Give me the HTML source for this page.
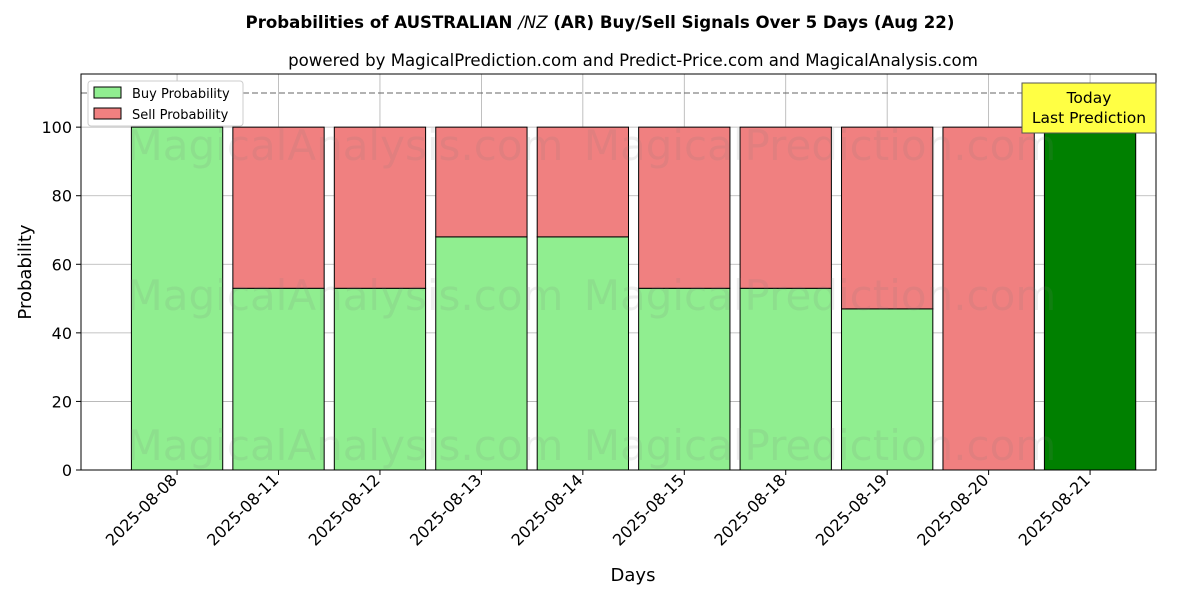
<!DOCTYPE html>
<html><head><meta charset="utf-8"><style>
body{margin:0;background:#fff;font-family:"DejaVu Sans","Liberation Sans",sans-serif}
</style></head><body>
<svg id="c" width="1200" height="600" xmlns="http://www.w3.org/2000/svg" font-family="DejaVu Sans, Liberation Sans, sans-serif">
<text x="600" y="28" text-anchor="middle" font-size="16.6" font-weight="bold">Probabilities of AUSTRALIAN <tspan font-style="italic" font-weight="normal">/NZ</tspan> (AR) Buy/Sell Signals Over 5 Days (Aug 22)</text>
<text x="633" y="66" text-anchor="middle" font-size="16.6">powered by MagicalPrediction.com and Predict-Price.com and MagicalAnalysis.com</text>
<g id="grid"></g><g id="bars"></g><g id="wm"></g>
<line x1="81" x2="1156" y1="93" y2="93" stroke="#666" stroke-dasharray="6,3"/>
<rect x="81" y="74" width="1075" height="396" fill="none" stroke="#000"/>
<g id="axes"></g>
<text x="633" y="581" text-anchor="middle" font-size="18">Days</text>
<text transform="translate(31,272) rotate(-90)" text-anchor="middle" font-size="18">Probability</text>
<g>
<rect x="88" y="81" width="155" height="45" fill="#fff" stroke="#ccc" rx="3"/>
<rect x="94" y="87" width="27" height="11" fill="#90ee90" stroke="#000"/>
<text x="132" y="98" font-size="13">Buy Probability</text>
<rect x="94" y="108" width="27" height="11" fill="#f08080" stroke="#000"/>
<text x="132" y="119" font-size="13">Sell Probability</text>
</g>
<g>
<rect x="1022" y="83" width="134" height="50" fill="#ffff44" stroke="#555"/>
<text x="1089" y="103" text-anchor="middle" font-size="15.5">Today</text>
<text x="1089" y="123" text-anchor="middle" font-size="15.5">Last Prediction</text>
</g>
</svg>
<script>
const categories=["2025-08-08","2025-08-11","2025-08-12","2025-08-13","2025-08-14","2025-08-15","2025-08-18","2025-08-19","2025-08-20","2025-08-21"];
const buyValues=[100,53,53,68,68,53,53,47,0,100];
const sellValues=[0,47,47,32,32,47,47,53,100,0];
const yTicks=[0,20,40,60,80,100];
const NS="http://www.w3.org/2000/svg";
const L=81,R=1156,T=74,B=470,xMin=-0.947,xMax=9.65,yMax=115.5;
const xs=i=>L+(i-xMin)/(xMax-xMin)*(R-L);
const ys=v=>B-v/yMax*(B-T);
const bw=0.9*(R-L)/(xMax-xMin);
function mk(tag,attrs,parent,txt){const e=document.createElementNS(NS,tag);for(const k in attrs)e.setAttribute(k,attrs[k]);if(txt!==undefined)e.textContent=txt;document.getElementById(parent).appendChild(e);return e;}
yTicks.forEach(t=>{
 const g=mk('line',{x1:L,x2:R,y1:ys(t),y2:ys(t),stroke:'#b0b0b0','stroke-width':0.8},'grid');
 
 
 const tk=mk('line',{x1:L-5,x2:L,y1:ys(t),y2:ys(t),stroke:'#000'},'axes');
 
 
 const lb=mk('text',{x:L-9,y:ys(t)+6,'text-anchor':'end','font-size':16},'axes',String(t));
 
 
});
categories.forEach((c,i)=>{
 const x=xs(i);
 const g=mk('line',{x1:x,x2:x,y1:T,y2:B,stroke:'#b0b0b0','stroke-width':0.8},'grid');
 
 
 const last=i===categories.length-1;
 const b=mk('rect',{x:x-bw/2,y:ys(buyValues[i]),width:bw,height:B-ys(buyValues[i]),fill:last?'#008000':'#90ee90',stroke:'#000'},'bars');
 
 
 const s=mk('rect',{x:x-bw/2,y:ys(buyValues[i]+sellValues[i]),width:bw,height:ys(buyValues[i])-ys(buyValues[i]+sellValues[i]),fill:'#f08080',stroke:'#000'},'bars');
 
 
 const tk=mk('line',{x1:x,x2:x,y1:B,y2:B+5,stroke:'#000'},'axes');
 
 
 const lb=mk('text',{x:0,y:0,'text-anchor':'end','font-size':16,transform:`translate(${x+1},${B+11}) rotate(-45)`},'axes',c);
 
 
});
[[345,160,'MagicalAnalysis.com'],[820,160,'MagicalPrediction.com'],[345,310,'MagicalAnalysis.com'],[820,310,'MagicalPrediction.com'],[345,460,'MagicalAnalysis.com'],[820,460,'MagicalPrediction.com']].forEach(w=>{
 const t=mk('text',{x:w[0],y:w[1],'text-anchor':'middle','font-size':42,fill:'rgba(120,120,120,0.13)'},'wm',w[2]);
 
 
});
</script>
</body></html>
